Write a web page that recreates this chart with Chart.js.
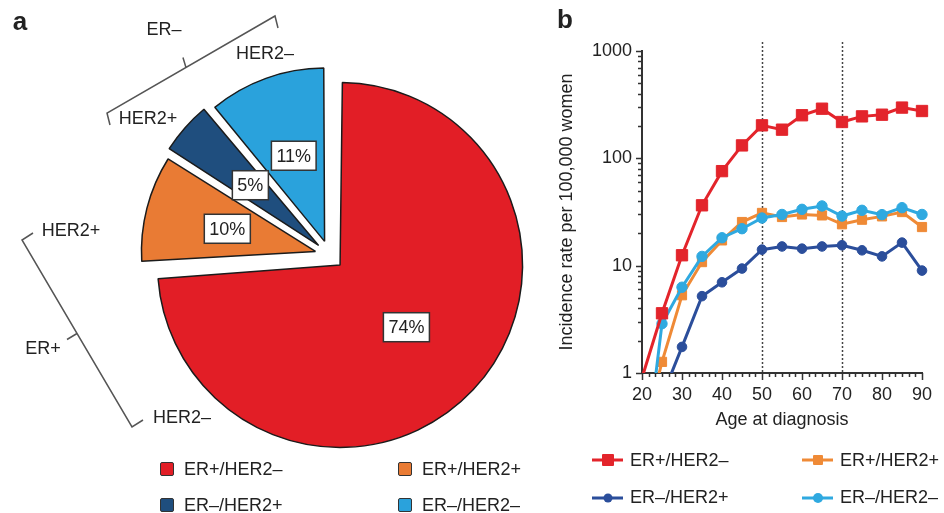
<!DOCTYPE html>
<html>
<head>
<meta charset="utf-8">
<script src="https://cdn.jsdelivr.net/npm/chart.js@4.4.1/dist/chart.umd.min.js"></script>
<style>
html,body{margin:0;padding:0;background:#fff;}
body{width:944px;height:513px;position:relative;overflow:hidden;font-family:"Liberation Sans",Arial,Helvetica,sans-serif;color:#222;}
#pie{position:absolute;left:0;top:0;}
#line{position:absolute;left:550px;top:0;}
.t{position:absolute;white-space:nowrap;font-size:18px;line-height:1;transform:translate(-50%,-50%);}
.l{position:absolute;white-space:nowrap;font-size:18px;line-height:1;transform:translateY(-50%);}
.panel{position:absolute;font-size:26px;font-weight:bold;line-height:1;transform:translate(-50%,-50%);}
.sq{position:absolute;width:12px;height:12px;border:1.5px solid #333;border-radius:2px;transform:translateY(-50%);}
.ln{position:absolute;height:3px;width:31px;transform:translateY(-50%);}
.mk{position:absolute;transform:translate(-50%,-50%);}
</style>
</head>
<body>
<canvas id="pie" width="550" height="513"></canvas>
<canvas id="line" width="394" height="431"></canvas>

<div class="panel" style="left:20px;top:21px;">a</div>
<div class="panel" style="left:565px;top:19px;">b</div>

<div class="t" style="left:164px;top:29px;">ER–</div>
<div class="t" style="left:265px;top:53px;">HER2–</div>
<div class="t" style="left:148px;top:118px;">HER2+</div>
<div class="t" style="left:71px;top:230px;">HER2+</div>
<div class="t" style="left:43px;top:348px;">ER+</div>
<div class="t" style="left:182px;top:417px;">HER2–</div>

<div id="pieLegend"></div>
<div id="lineLegend"></div>

<script>
// ---------------- DATA ----------------
const pieCategories = ['ER+/HER2–', 'ER+/HER2+', 'ER–/HER2+', 'ER–/HER2–'];
const piePercent = [74, 10, 5, 11];
const pieColors = ['#E21E26', '#E97B34', '#1F4E7E', '#2AA2DC'];

const lineCategories = ['ER+/HER2–', 'ER+/HER2+', 'ER–/HER2+', 'ER–/HER2–'];
const ages = [20, 25, 30, 35, 40, 45, 50, 55, 60, 65, 70, 75, 80, 85, 90];
const erPosHer2Neg = [0.9, 3.6, 12.5, 36.5, 76, 132, 203, 185, 252, 290, 218, 246, 255, 297, 276];
const erPosHer2Pos = [0.23, 1.27, 5.3, 10.8, 17.2, 25.5, 31, 28.4, 30, 29.4, 24.3, 26.8, 28.8, 31.6, 22.9];
const erNegHer2Pos = [null, 0.6, 1.75, 5.2, 7.0, 9.4, 14.1, 15.1, 14.4, 15.1, 15.5, 13.9, 12.2, 16.4, 9.0];
const erNegHer2Neg = [0.085, 2.88, 6.3, 12.2, 18.2, 22.1, 27.8, 30, 33.5, 36, 29, 32.8, 29.9, 34.7, 30];
const lineColors = ['#E3242B', '#EF8A36', '#2B4E9B', '#2FA9E0'];
const markerStyles = ['rect', 'rect', 'circle', 'circle'];

const xTickLabels = [20, 30, 40, 50, 60, 70, 80, 90];
const yTickLabels = [1, 10, 100, 1000];
const referenceAges = [50, 70];

const FONT = '"Liberation Sans", Arial, Helvetica, sans-serif';
Chart.defaults.font.family = FONT;
Chart.defaults.color = '#222';

// ---------------- PIE ----------------
const PIE_OFFSET = 58;
const pieDecor = {
  id: 'pieDecor',
  afterDatasetsDraw(chart) {
    const ctx = chart.ctx;
    const meta = chart.getDatasetMeta(0);
    ctx.save();
    ctx.font = '18px ' + FONT;
    meta.data.forEach((arc, i) => {
      const p = arc.getProps(['x', 'y', 'startAngle', 'endAngle'], true);
      const mid = (p.startAngle + p.endAngle) / 2;
      const d = PIE_OFFSET / 4 + 91;
      const cx = p.x + Math.cos(mid) * d;
      const cy = p.y + Math.sin(mid) * d;
      const txt = piePercent[i] + '%';
      const w = ctx.measureText(txt).width + 10;
      const h = 29;
      ctx.fillStyle = '#fff';
      ctx.strokeStyle = '#333';
      ctx.lineWidth = 1.5;
      ctx.fillRect(cx - w / 2, cy - h / 2, w, h);
      ctx.strokeRect(cx - w / 2, cy - h / 2, w, h);
      ctx.fillStyle = '#222';
      ctx.textAlign = 'center';
      ctx.textBaseline = 'middle';
      ctx.fillText(txt, cx, cy + 1);
    });
    // brackets
    ctx.strokeStyle = '#555';
    ctx.lineWidth = 1.5;
    function bracket(ax, ay, bx, by, hx, hy, tx, ty, f) {
      ctx.beginPath();
      ctx.moveTo(ax + hx, ay + hy);
      ctx.lineTo(ax, ay);
      ctx.lineTo(bx, by);
      ctx.lineTo(bx + hx, by + hy);
      const mx = ax + (bx - ax) * f, my = ay + (by - ay) * f;
      ctx.moveTo(mx, my);
      ctx.lineTo(mx + tx, my + ty);
      ctx.stroke();
    }
    bracket(107, 113, 275, 16, 3, 12, -3, -10, 0.47);
    bracket(22, 240, 132, 427, 11, -7, -10, 6, 0.5);
    ctx.restore();
  }
};

new Chart(document.getElementById('pie'), {
  type: 'pie',
  data: {
    labels: pieCategories,
    datasets: [{
      data: piePercent,
      backgroundColor: pieColors,
      borderColor: '#1b1b1b',
      borderWidth: 1.5,
      offset: PIE_OFFSET,
      radius: 168
    }]
  },
  options: {
    responsive: false,
    animation: false,
    devicePixelRatio: 1,
    radius: 168,
    events: [],
    layout: { padding: { left: 109, right: 0, top: 0, bottom: 3 } },
    plugins: { legend: { display: false }, tooltip: { enabled: false } }
  },
  plugins: [pieDecor]
});

// ---------------- LINE ----------------
const seriesValues = [erPosHer2Neg, erPosHer2Pos, erNegHer2Pos, erNegHer2Neg];
const pointSizes = [8, 6.5, 4.8, 5.2];
function mkSet(i) {
  const vals = seriesValues[i];
  return {
    label: lineCategories[i],
    data: ages.map((a, k) => ({ x: a, y: vals[k] })),
    borderColor: lineColors[i],
    backgroundColor: lineColors[i],
    pointBackgroundColor: lineColors[i],
    pointBorderColor: lineColors[i],
    pointBorderWidth: 1,
    borderWidth: 3,
    pointStyle: markerStyles[i],
    pointRadius: c => (c.raw && c.raw.y != null && c.raw.y >= 1) ? pointSizes[i] : 0,
    tension: 0,
    spanGaps: false,
    clip: { left: 0, top: 12, right: 12, bottom: 0 }
  };
}

const lineDecor = {
  id: 'lineDecor',
  beforeDatasetsDraw(chart) {
    const { ctx, chartArea, scales } = chart;
    ctx.save();
    ctx.strokeStyle = '#444';
    ctx.lineWidth = 1.5;
    ctx.setLineDash([2, 2]);
    referenceAges.forEach(a => {
      const x = Math.round(scales.x.getPixelForValue(a)) + 0.5;
      ctx.beginPath();
      ctx.moveTo(x, chartArea.top - 9);
      ctx.lineTo(x, chartArea.bottom);
      ctx.stroke();
    });
    ctx.restore();
  },
  afterDraw(chart) {
    const { ctx, chartArea, scales } = chart;
    ctx.save();
    ctx.strokeStyle = '#333';
    ctx.lineWidth = 1.5;
    ctx.beginPath();
    // y ticks
    for (let d = 1; d <= 1000; d *= 10) {
      for (let m = 1; m <= 9; m++) {
        const v = d * m;
        if (v > 1000) break;
        const y = Math.round(scales.y.getPixelForValue(v)) + 0.5;
        const len = (m === 1) ? 6 : 4;
        ctx.moveTo(chartArea.left, y);
        ctx.lineTo(chartArea.left - len, y);
      }
    }
    // x ticks
    for (let k = 0; k <= 42; k++) {
      const v = 20 + k * 10 / 6;
      const x = Math.round(scales.x.getPixelForValue(v)) + 0.5;
      const len = (k % 6 === 0) ? 7 : 4;
      ctx.moveTo(x, chartArea.bottom);
      ctx.lineTo(x, chartArea.bottom + len);
    }
    ctx.stroke();
    ctx.restore();
  }
};

new Chart(document.getElementById('line'), {
  type: 'line',
  data: { datasets: [mkSet(0), mkSet(3), mkSet(1), mkSet(2)] },
  options: {
    responsive: false,
    animation: false,
    devicePixelRatio: 1,
    events: [],
    layout: { padding: { left: 0, top: 51, right: 22, bottom: 0 } },
    plugins: { legend: { display: false }, tooltip: { enabled: false } },
    scales: {
      x: {
        type: 'linear', min: 20, max: 90,
        ticks: { stepSize: 10, autoSkip: false, maxRotation: 0, font: { size: 18 }, color: '#222', padding: 11,
          callback: v => xTickLabels.includes(v) ? String(v) : '' },
        grid: { display: false, drawTicks: false },
        border: { display: true, color: '#333', width: 2 },
        title: { display: true, text: 'Age at diagnosis', font: { size: 18 }, color: '#222', padding: { top: 2, bottom: 0 } },
        afterFit: s => { s.height = 58; }
      },
      y: {
        type: 'logarithmic', min: 1, max: 1000,
        ticks: { autoSkip: false, font: { size: 18 }, color: '#222', padding: 10,
          callback: v => yTickLabels.includes(v) ? String(v) : '' },
        grid: { display: false, drawTicks: false },
        border: { display: true, color: '#333', width: 2 },
        title: { display: true, text: 'Incidence rate per 100,000 women', font: { size: 18 }, color: '#222', padding: { top: 6, bottom: 0 } },
        afterFit: s => { s.width = 92; }
      }
    }
  },
  plugins: [lineDecor]
});

// ---------------- LEGENDS (HTML text) ----------------
const pieLegendPos = [[160, 469], [398, 469], [160, 505], [398, 505]];
const pl = document.getElementById('pieLegend');
pieCategories.forEach((c, i) => {
  const [x, y] = pieLegendPos[i];
  pl.insertAdjacentHTML('beforeend',
    `<div class="sq" style="left:${x}px;top:${y}px;background:${pieColors[i]}"></div>` +
    `<div class="l" style="left:${x + 24}px;top:${y}px;">${c}</div>`);
});
const lineLegendPos = [[592, 460], [802, 460], [592, 497.5], [802, 497.5]];
const ll = document.getElementById('lineLegend');
lineCategories.forEach((c, i) => {
  const [x, y] = lineLegendPos[i];
  const sz = markerStyles[i] === 'rect' ? (i === 0 ? 12 : 10) : (i === 2 ? 9 : 10);
  const rad = markerStyles[i] === 'rect' ? '1px' : '50%';
  ll.insertAdjacentHTML('beforeend',
    `<div class="ln" style="left:${x}px;top:${y}px;background:${lineColors[i]}"></div>` +
    `<div class="mk" style="left:${x + 15.5}px;top:${y}px;width:${sz}px;height:${sz}px;border-radius:${rad};background:${lineColors[i]}"></div>` +
    `<div class="l" style="left:${x + 38}px;top:${y - 0.5}px;">${c}</div>`);
});
</script>
</body>
</html>
